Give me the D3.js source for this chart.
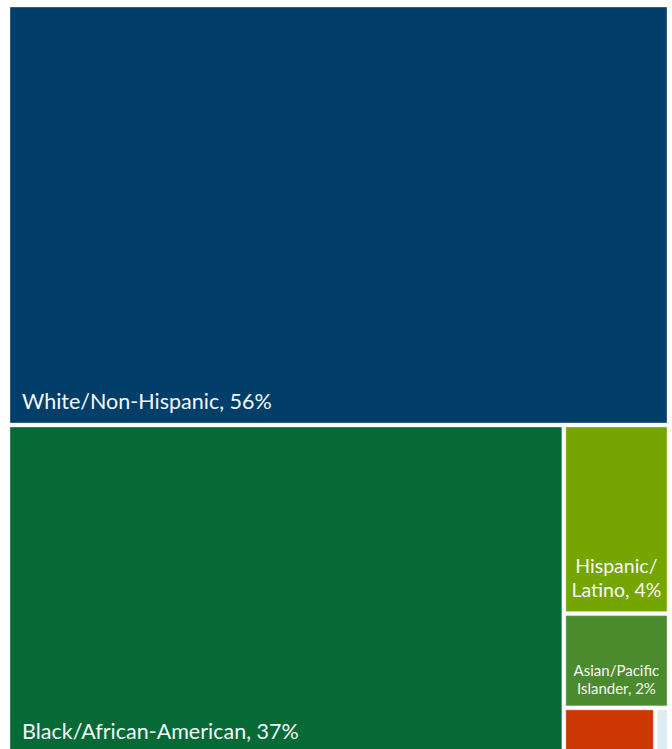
<!DOCTYPE html>
<html>
<head>
<meta charset="utf-8">
<script src="https://cdn.jsdelivr.net/npm/d3@7"></script>
<style>
  html, body { margin: 0; padding: 0; background: #ffffff; }
  svg { display: block; }
</style>
</head>
<body>
<svg id="chart" width="672" height="749"></svg>
<script>
// Population share by race/ethnicity (percent)
const groups = [
  "White/Non-Hispanic",
  "Black/African-American",
  "Hispanic/Latino",
  "Asian/Pacific Islander",
  "American Indian/Alaska Native",
  "Other"
];
const shares = [56, 37, 4, 2, 0.87, 0.13];
const labelLines = [
  ["White/Non-Hispanic, 56%"],
  ["Black/African-American, 37%"],
  ["Hispanic/", "Latino, 4%"],
  ["Asian/Pacific", "Islander, 2%"],
  [],
  []
];
const colors = ["#013f6a", "#066a36", "#75a500", "#4b8b2e", "#cb3804", "#ddebf3"];

const margin = { left: 10, top: 7 };
const width = 657, height = 746;

const root = d3.hierarchy({
  children: groups.map((g, i) => ({ name: g, value: shares[i], lines: labelLines[i], color: colors[i] }))
}).sum(d => d.value || 0);

d3.treemap()
  .tile(d3.treemapSquarify.ratio(1))
  .size([width, height])
  .paddingInner(4)
  .round(false)(root);

const svg = d3.select("#chart");
const g = svg.append("g").attr("transform", `translate(${margin.left},${margin.top})`);

const cell = g.selectAll("g.cell")
  .data(root.leaves())
  .join("g")
  .attr("class", "cell");

cell.append("rect")
  .attr("x", d => d.x0)
  .attr("y", d => d.y0)
  .attr("width", d => d.x1 - d.x0)
  .attr("height", d => d.y1 - d.y0)
  .attr("fill", d => d.data.color)
  .attr("stroke", "rgba(255,255,255,0.35)")
  .attr("stroke-width", 1);

const font = "Lato, 'Open Sans', sans-serif";

// Large cells: label at bottom-left; narrow cells: centred label at the bottom
cell.each(function(d) {
  const lines = d.data.lines;
  if (!lines.length) return;
  const w = d.x1 - d.x0, h = d.y1 - d.y0;
  const wide = w > 200;
  const small = !wide && h < 120;
  const size = wide ? 21.5 : (small ? 15 : 19.5);
  const lh = size * 1.2;
  const bottomPad = wide ? 14 : (small ? 11.5 : 15);
  const txt = d3.select(this).append("text")
    .attr("fill", "#f5f7f9")
    .attr("font-family", font)
    .attr("font-size", size)
    .attr("text-anchor", wide ? "start" : "middle");
  const x = wide ? d.x0 + 12 : (d.x0 + d.x1) / 2;
  const lastY = d.y1 - bottomPad;
  lines.forEach((line, i) => {
    txt.append("tspan")
      .attr("x", x)
      .attr("y", lastY - (lines.length - 1 - i) * lh)
      .text(line);
  });
});
</script>
</body>
</html>
